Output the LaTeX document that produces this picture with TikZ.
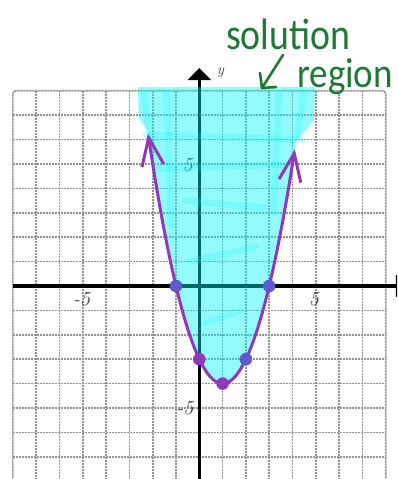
\documentclass[tikz,border=0pt]{standalone}
\usepackage{fontspec}
\newfontfamily\handfont{Carlito}
\usetikzlibrary{arrows.meta}
\definecolor{curvepurple}{RGB}{145,55,185}
\definecolor{dotblue}{RGB}{95,90,205}
\definecolor{handgreen}{RGB}{28,122,52}
\definecolor{shadecol}{RGB}{0,245,250}
\definecolor{labelgray}{RGB}{60,60,60}
\tikzset{
  gridline/.style={gray!85, line width=1.6pt, dash pattern=on 1pt off 0.5pt},
  axisline/.style={black, line width=3.4pt},
  curveline/.style={curvepurple, line width=3pt, line cap=round, line join=round},
  ticklabel/.style={labelgray, font=\fontsize{20}{20}\selectfont\itshape, inner sep=0pt},
  handtext/.style={handgreen, inner sep=0pt},
  streak/.style={shadecol, opacity=0.2, line width=7pt, line cap=round},
}
\begin{document}
\begin{tikzpicture}[x=1pt,y=1pt]
\useasboundingbox (0,0) rectangle (397,479);
\begin{scope}
\clip (0,0) rectangle (397,479);
\begin{scope}[shift={(199.3,193)}, x=23.3pt, y=24.4pt]
  % grid
  \foreach \i in {-7,...,7} {
    \draw[gridline] (\i,-8.2) -- (\i,8);
    \draw[gridline] (-8,\i) -- (8,\i);
  }
  \draw[gridline, rounded corners=3pt] (-8,-8.2) -- (-8,8) -- (8,8) -- (8,-8.2);
  % axes
  \coordinate (xstart) at (-8,0);
  \coordinate (xend) at (8.95,0);
  \coordinate (ystart) at (0,-8.3);
  \coordinate (yend) at (0,8.93);
  \draw[axisline, -{Triangle[length=12pt,width=22pt]}] (xstart) -- (xend);
  \draw[axisline, line width=3pt, -{Triangle[length=12pt,width=23pt]}] (ystart) -- (yend);
  \node[labelgray, font=\fontsize{15}{15}\selectfont\itshape, anchor=west, inner sep=0pt] (ylab) at (0.75,8.75) {y};
  % tick labels
  \node[ticklabel] (xm5) at (-5.05,-0.55) {-5};
  \node[ticklabel] (xp5) at (4.92,-0.55) {5};
  \node[ticklabel] (yp5) at (-0.5,4.95) {5};
  \node[ticklabel] (ym5) at (-0.62,-5.0) {-5};
  % solution region shading
  \fill[shadecol, fill opacity=0.42] (-2.63,8.15) -- (4.97,8.15) -- (4.92,6.8)
     -- plot[domain=4.15:-2.22, samples=60] (\x,{\x*\x-2*\x-3}) -- (-2.6,6.9) -- cycle;
  \draw[streak] (-2.3,6.2) -- (4.4,6.0);
  \draw[streak] (-1.9,4.8) -- (3.9,5.0);
  \draw[streak] (-1.4,7.9) -- (-1.2,2.5);
  \draw[streak] (3.4,7.9) -- (3.2,3.0);
  \draw[streak] (-2.4,7.9) -- (-2.0,5.5);
  \draw[streak] (4.5,7.9) -- (4.2,6.2);
  \draw[streak] (-0.6,3.5) -- (2.8,3.2);
  \draw[streak] (-0.4,1.0) -- (2.4,1.6);
  \draw[streak] (0.3,-1.5) -- (1.8,-1.0);
  % parabola
  \draw[curveline, {Straight Barb[length=28pt,width=22pt]}-{Straight Barb[length=28pt,width=22pt]}]
     plot[domain=-2.2:4.1, samples=80] (\x,{\x*\x-2*\x-3});
  % points
  \fill[dotblue] (-1,0) circle (6.3pt);
  \fill[dotblue] (3,0) circle (6.3pt);
  \fill[curvepurple] (0,-3) circle (6.3pt);
  \fill[dotblue] (2,-3) circle (6.3pt);
  \fill[curvepurple] (1,-4) circle (6.3pt);
\end{scope}
\end{scope}
% handwritten annotation
\node[handtext, anchor=base west] (soltext) at (226,429)
  {\scalebox{0.9}[1.05]{\handfont\fontsize{42}{42}\selectfont solution}};
\node[handtext, anchor=base west] (regtext) at (297,391)
  {\scalebox{0.88}[1]{\handfont\fontsize{42}{42}\selectfont region}};
\coordinate (arrtop) at (283,424);
\coordinate (arrtip) at (262,391);
\draw[handgreen, line width=2.6pt, line cap=round] (arrtop) -- (arrtip);
\draw[handgreen, line width=2.6pt, line cap=round, line join=round]
  ([shift={(-2,15)}]arrtip) -- (arrtip) -- ([shift={(14,1)}]arrtip);
\end{tikzpicture}
\end{document}
